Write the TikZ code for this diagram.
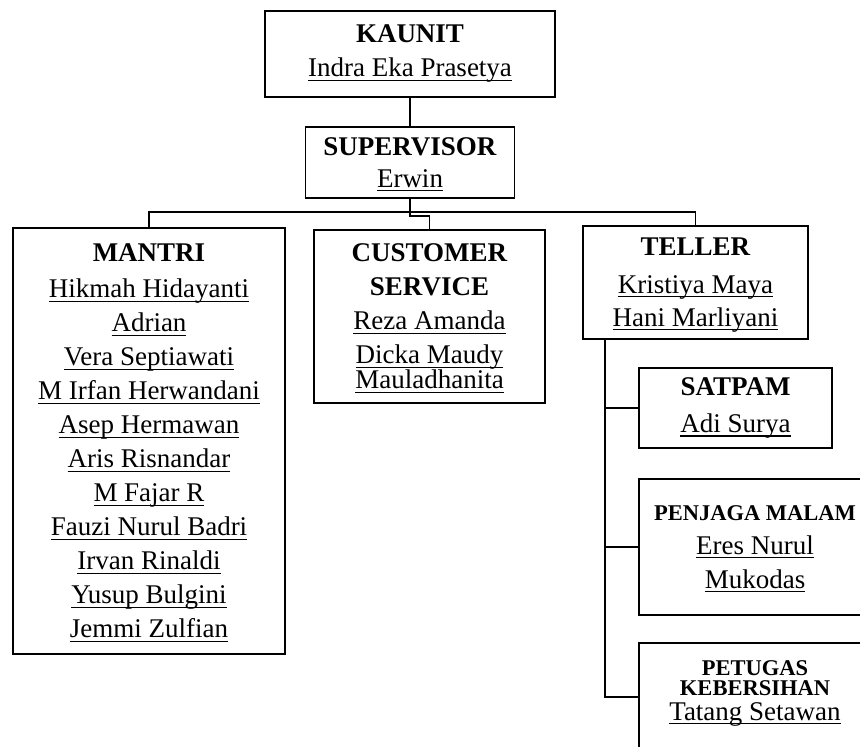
\documentclass[tikz,border=0pt]{standalone}
\usepackage{fontspec}
\setmainfont{Liberation Serif}
\usetikzlibrary{positioning}

\newcommand{\jab}[1]{\textbf{#1}}
\newcommand{\jabkecil}[1]{{\fontsize{11.25}{17}\selectfont\textbf{#1}}}
\newcommand{\nama}[1]{\setbox0\hbox{#1}\makebox[0pt][l]{\smash{\rule[-2pt]{\wd0}{0.6pt}}}\box0}

\begin{document}
\begin{tikzpicture}[x=0.5pt, y=-0.5pt,
    kotak/.style={draw, line width=0.8pt, align=center, inner sep=0pt,
      font=\fontsize{13.5}{17}\selectfont},
    garis/.style={line width=0.8pt}]
      \useasboundingbox (0,0) rectangle (860,747);
      \clip (0,0) rectangle (860,747);

      \node[kotak, minimum width=145pt, minimum height=43pt] (kaunit) at (410,54)
        {\jab{KAUNIT}\\\nama{Indra Eka Prasetya}};
      \node[kotak, minimum width=104.5pt, minimum height=35.5pt] (supervisor) at (410,162.5)
        {\jab{SUPERVISOR}\\[-1pt]\nama{Erwin}};
      \node[kotak, minimum width=136pt, minimum height=213pt] (mantri) at (149,441)
        {\jab{MANTRI}\\[1pt]\nama{Hikmah Hidayanti}\\\nama{Adrian}\\\nama{Vera Septiawati}\\
         \nama{M Irfan Herwandani}\\\nama{Asep Hermawan}\\\nama{Aris Risnandar}\\
         \nama{M Fajar R}\\\nama{Fauzi Nurul Badri}\\\nama{Irvan Rinaldi}\\
         \nama{Yusup Bulgini}\\\nama{Jemmi Zulfian}};
      \node[kotak, minimum width=115.5pt, minimum height=86.5pt] (cs) at (429.5,316.5)
        {\jab{CUSTOMER}\\\jab{SERVICE}\\\nama{Reza Amanda}\\\nama{Dicka Maudy}\\[-4.5pt]\nama{Mauladhanita}};
      \node[kotak, minimum width=112.5pt, minimum height=56.5pt] (teller) at (695.5,282.5)
        {\mbox{}\\[-6pt]\jab{TELLER}\\[2pt]\nama{Kristiya Maya}\\[-0.5pt]\nama{Hani Marliyani}};
      \node[kotak, minimum width=96.5pt, minimum height=40pt] (satpam) at (735.5,408)
        {\jab{SATPAM}\\[1.5pt]\nama{Adi Surya}};
      \node[kotak, minimum width=116pt, minimum height=68pt] (penjaga) at (755,547)
        {\jabkecil{PENJAGA MALAM}\\\nama{Eres Nurul}\\\nama{Mukodas}};
      \node[kotak, minimum width=116pt, anchor=north, inner ysep=8.8pt, text depth=30pt] (petugas) at (755,642)
        {\jabkecil{PETUGAS}\\[-7pt]\jabkecil{KEBERSIHAN}\\[-4.5pt]\nama{Tatang Setawan}};

      \coordinate (bus) at (410,212);
      \coordinate (trunk) at ([xshift=11.5pt]teller.south west);
      \coordinate (petend) at ([yshift=-27.5pt]petugas.north west);

      \draw[garis] (kaunit.south) -- (supervisor.north);
      \draw[garis] (supervisor.south) -- (bus);
      \draw[garis] (mantri.north) |- (bus) -| (teller.north);
      \draw[garis] (bus) -- ++(0,4) -| (cs.north);
      \draw[garis] (trunk) |- (satpam.west);
      \draw[garis] (trunk) |- (penjaga.west);
      \draw[garis] (trunk) |- (petend);
    \end{tikzpicture}
\end{document}
